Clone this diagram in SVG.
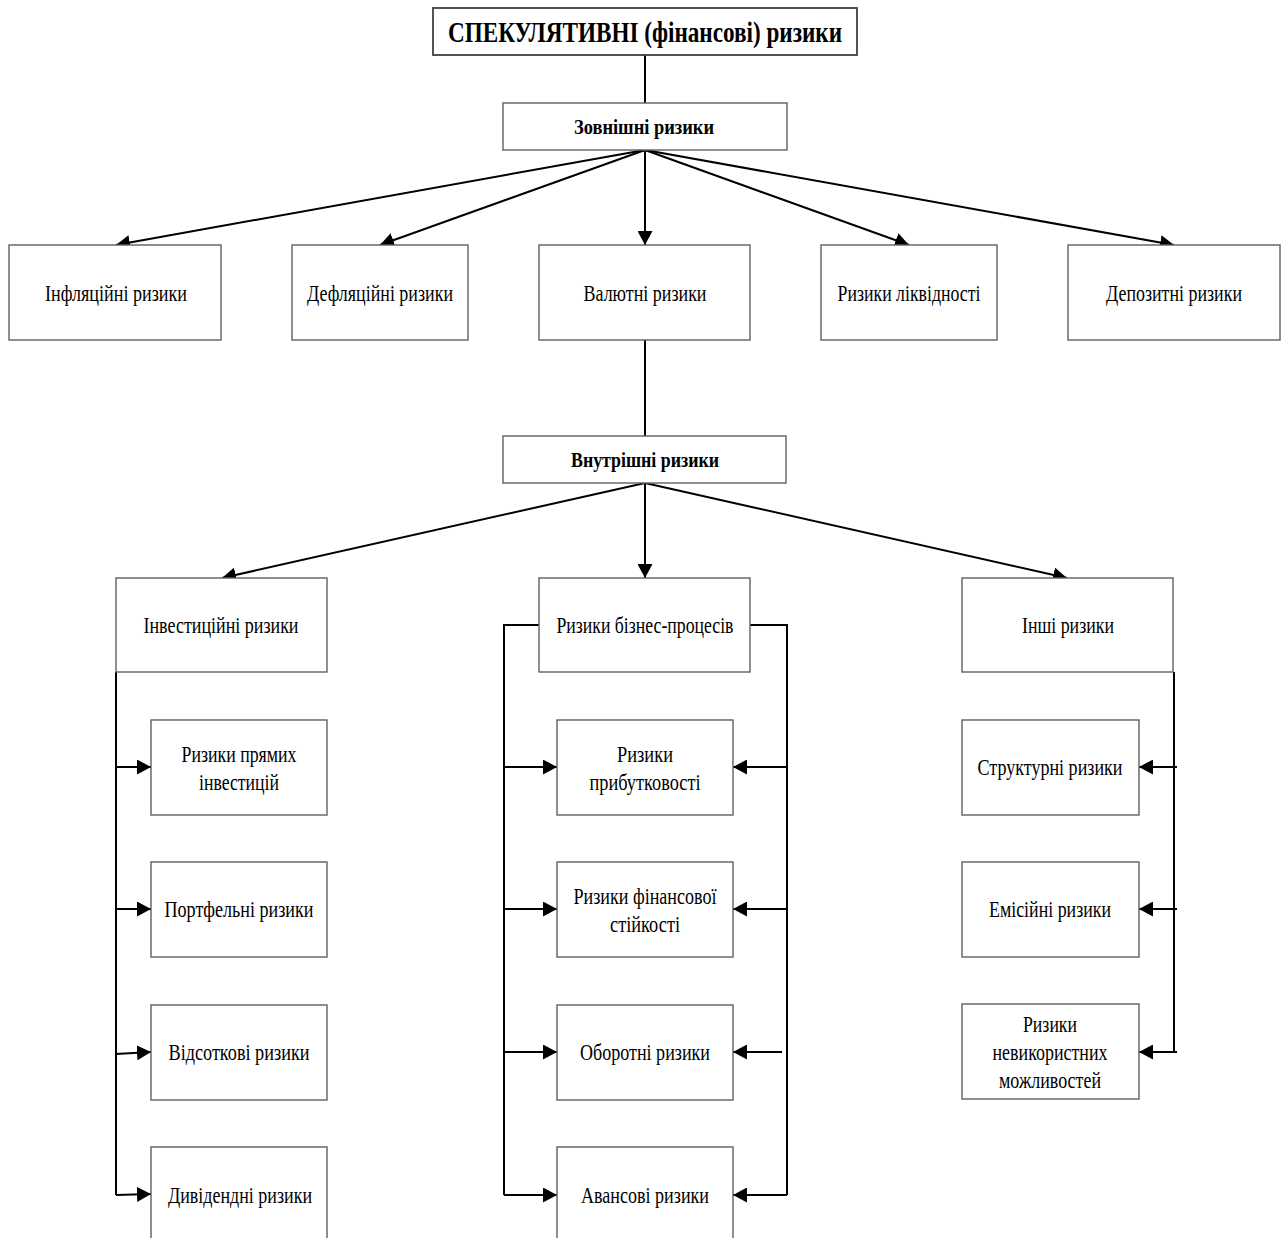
<svg xmlns="http://www.w3.org/2000/svg" width="1283" height="1238" viewBox="0 0 1283 1238">
  <defs>
    <marker id="arrow" markerUnits="userSpaceOnUse" markerWidth="15" markerHeight="15" refX="14" refY="7.5" orient="auto">
      <path d="M0,0 L14,7.5 L0,15 z" fill="#000"/>
    </marker>
    <style>
      .box { fill: #fff; stroke: #606060; stroke-width: 1.4; }
      .title-box { fill: #fff; stroke: #404040; stroke-width: 1.8; }
      .t { font-family: "Liberation Serif", "Times New Roman", serif; font-size: 23px; fill: #000; text-anchor: middle; }
      .b { font-weight: bold; font-size: 22px; }
      .title { font-family: "Liberation Serif", "Times New Roman", serif; font-weight: bold; font-size: 30px; fill: #000; text-anchor: middle; }
      .ln { stroke: #000; stroke-width: 2; fill: none; }
      .ar { stroke: #000; stroke-width: 2; fill: none; marker-end: url(#arrow); }
    </style>
  </defs>
  <rect width="1283" height="1238" fill="#fff"/>

  <!-- connectors -->
  <g id="connectors">
    <line class="ln" x1="645" y1="55" x2="645" y2="104"/>
    <line class="ar" x1="645" y1="150" x2="116" y2="245"/>
    <line class="ar" x1="645" y1="150" x2="380" y2="245"/>
    <line class="ar" x1="645" y1="150" x2="645" y2="245"/>
    <line class="ar" x1="645" y1="150" x2="909" y2="245"/>
    <line class="ar" x1="645" y1="150" x2="1174" y2="245"/>
    <line class="ln" x1="645" y1="340" x2="645" y2="436"/>
    <line class="ar" x1="645" y1="483" x2="222" y2="578"/>
    <line class="ar" x1="645" y1="483" x2="645" y2="578"/>
    <line class="ar" x1="645" y1="483" x2="1067" y2="578"/>

    <!-- investment branch -->
    <line class="ln" x1="116" y1="672" x2="116" y2="1195"/>
    <line class="ar" x1="116" y1="767" x2="151" y2="767"/>
    <line class="ar" x1="116" y1="909" x2="151" y2="909"/>
    <line class="ar" x1="116" y1="1054" x2="151" y2="1052"/>
    <line class="ar" x1="116" y1="1195" x2="151" y2="1194"/>

    <!-- business-process branch -->
    <polyline class="ln" points="539,625 504,625 504,1195"/>
    <polyline class="ln" points="750,625 787,625 787,1195"/>
    <line class="ar" x1="504" y1="767" x2="557" y2="767"/>
    <line class="ar" x1="504" y1="909" x2="557" y2="909"/>
    <line class="ar" x1="504" y1="1052" x2="557" y2="1052"/>
    <line class="ar" x1="504" y1="1195" x2="557" y2="1195"/>
    <line class="ar" x1="787" y1="767" x2="733" y2="767"/>
    <line class="ar" x1="787" y1="909" x2="733" y2="909"/>
    <line class="ar" x1="782" y1="1052" x2="733" y2="1052"/>
    <line class="ar" x1="787" y1="1195" x2="733" y2="1195"/>

    <!-- other risks branch -->
    <line class="ln" x1="1174" y1="672" x2="1174" y2="1052"/>
    <line class="ar" x1="1177" y1="767" x2="1139" y2="767"/>
    <line class="ar" x1="1177" y1="909" x2="1139" y2="909"/>
    <line class="ar" x1="1177" y1="1052" x2="1139" y2="1052"/>
  </g>

  <!-- top -->
  <g id="n-speculative">
    <rect class="title-box" x="433" y="8" width="424" height="47"/>
    <text class="title" x="645" y="42" textLength="394" lengthAdjust="spacingAndGlyphs">СПЕКУЛЯТИВНІ (фінансові) ризики</text>
  </g>
  <g id="n-external">
    <rect class="box" x="503" y="103" width="284" height="47"/>
    <text class="t b" x="644" y="134" textLength="140" lengthAdjust="spacingAndGlyphs">Зовнішні ризики</text>
  </g>

  <!-- external risks -->
  <g id="n-inflation">
    <rect class="box" x="9" y="245" width="212" height="95"/>
    <text class="t" x="116" y="301" textLength="142" lengthAdjust="spacingAndGlyphs">Інфляційні ризики</text>
  </g>
  <g id="n-deflation">
    <rect class="box" x="292" y="245" width="176" height="95"/>
    <text class="t" x="380" y="301" textLength="146" lengthAdjust="spacingAndGlyphs">Дефляційні ризики</text>
  </g>
  <g id="n-currency">
    <rect class="box" x="539" y="245" width="211" height="95"/>
    <text class="t" x="645" y="301" textLength="123" lengthAdjust="spacingAndGlyphs">Валютні ризики</text>
  </g>
  <g id="n-liquidity">
    <rect class="box" x="821" y="245" width="176" height="95"/>
    <text class="t" x="909" y="301" textLength="143" lengthAdjust="spacingAndGlyphs">Ризики ліквідності</text>
  </g>
  <g id="n-deposit">
    <rect class="box" x="1068" y="245" width="212" height="95"/>
    <text class="t" x="1174" y="301" textLength="136" lengthAdjust="spacingAndGlyphs">Депозитні ризики</text>
  </g>

  <g id="n-internal">
    <rect class="box" x="503" y="436" width="283" height="47"/>
    <text class="t b" x="645" y="467" textLength="148" lengthAdjust="spacingAndGlyphs">Внутрішні ризики</text>
  </g>

  <!-- internal risk groups -->
  <g id="n-investment">
    <rect class="box" x="116" y="578" width="211" height="94"/>
    <text class="t" x="221" y="633" textLength="155" lengthAdjust="spacingAndGlyphs">Інвестиційні ризики</text>
  </g>
  <g id="n-business">
    <rect class="box" x="539" y="578" width="211" height="94"/>
    <text class="t" x="645" y="633" textLength="177" lengthAdjust="spacingAndGlyphs">Ризики бізнес-процесів</text>
  </g>
  <g id="n-other">
    <rect class="box" x="962" y="578" width="211" height="94"/>
    <text class="t" x="1068" y="633" textLength="92" lengthAdjust="spacingAndGlyphs">Інші ризики</text>
  </g>

  <!-- investment column -->
  <g id="n-direct">
    <rect class="box" x="151" y="720" width="176" height="95"/>
    <text class="t" x="239" y="762" textLength="115" lengthAdjust="spacingAndGlyphs">Ризики прямих</text>
    <text class="t" x="239" y="790" textLength="80" lengthAdjust="spacingAndGlyphs">інвестицій</text>
  </g>
  <g id="n-portfolio">
    <rect class="box" x="151" y="862" width="176" height="95"/>
    <text class="t" x="239" y="917" textLength="149" lengthAdjust="spacingAndGlyphs">Портфельні ризики</text>
  </g>
  <g id="n-interest">
    <rect class="box" x="151" y="1005" width="176" height="95"/>
    <text class="t" x="239" y="1060" textLength="141" lengthAdjust="spacingAndGlyphs">Відсоткові ризики</text>
  </g>
  <g id="n-dividend">
    <rect class="box" x="151" y="1147" width="176" height="110"/>
    <text class="t" x="240" y="1203" textLength="144" lengthAdjust="spacingAndGlyphs">Дивідендні ризики</text>
  </g>

  <!-- business-process column -->
  <g id="n-profitability">
    <rect class="box" x="557" y="720" width="176" height="95"/>
    <text class="t" x="645" y="762" textLength="56" lengthAdjust="spacingAndGlyphs">Ризики</text>
    <text class="t" x="645" y="790" textLength="111" lengthAdjust="spacingAndGlyphs">прибутковості</text>
  </g>
  <g id="n-stability">
    <rect class="box" x="557" y="862" width="176" height="95"/>
    <text class="t" x="645" y="904" textLength="143" lengthAdjust="spacingAndGlyphs">Ризики фінансової</text>
    <text class="t" x="645" y="932" textLength="70" lengthAdjust="spacingAndGlyphs">стійкості</text>
  </g>
  <g id="n-working">
    <rect class="box" x="557" y="1005" width="176" height="95"/>
    <text class="t" x="645" y="1060" textLength="130" lengthAdjust="spacingAndGlyphs">Оборотні ризики</text>
  </g>
  <g id="n-advance">
    <rect class="box" x="557" y="1147" width="176" height="110"/>
    <text class="t" x="645" y="1203" textLength="128" lengthAdjust="spacingAndGlyphs">Авансові ризики</text>
  </g>

  <!-- other risks column -->
  <g id="n-structural">
    <rect class="box" x="962" y="720" width="177" height="95"/>
    <text class="t" x="1050" y="775" textLength="145" lengthAdjust="spacingAndGlyphs">Структурні ризики</text>
  </g>
  <g id="n-emission">
    <rect class="box" x="962" y="862" width="177" height="95"/>
    <text class="t" x="1050" y="917" textLength="122" lengthAdjust="spacingAndGlyphs">Емісійні ризики</text>
  </g>
  <g id="n-missed">
    <rect class="box" x="962" y="1004" width="177" height="95"/>
    <text class="t" x="1050" y="1032" textLength="54" lengthAdjust="spacingAndGlyphs">Ризики</text>
    <text class="t" x="1050" y="1060" textLength="115" lengthAdjust="spacingAndGlyphs">невикористних</text>
    <text class="t" x="1050" y="1088" textLength="102" lengthAdjust="spacingAndGlyphs">можливостей</text>
  </g>
</svg>
